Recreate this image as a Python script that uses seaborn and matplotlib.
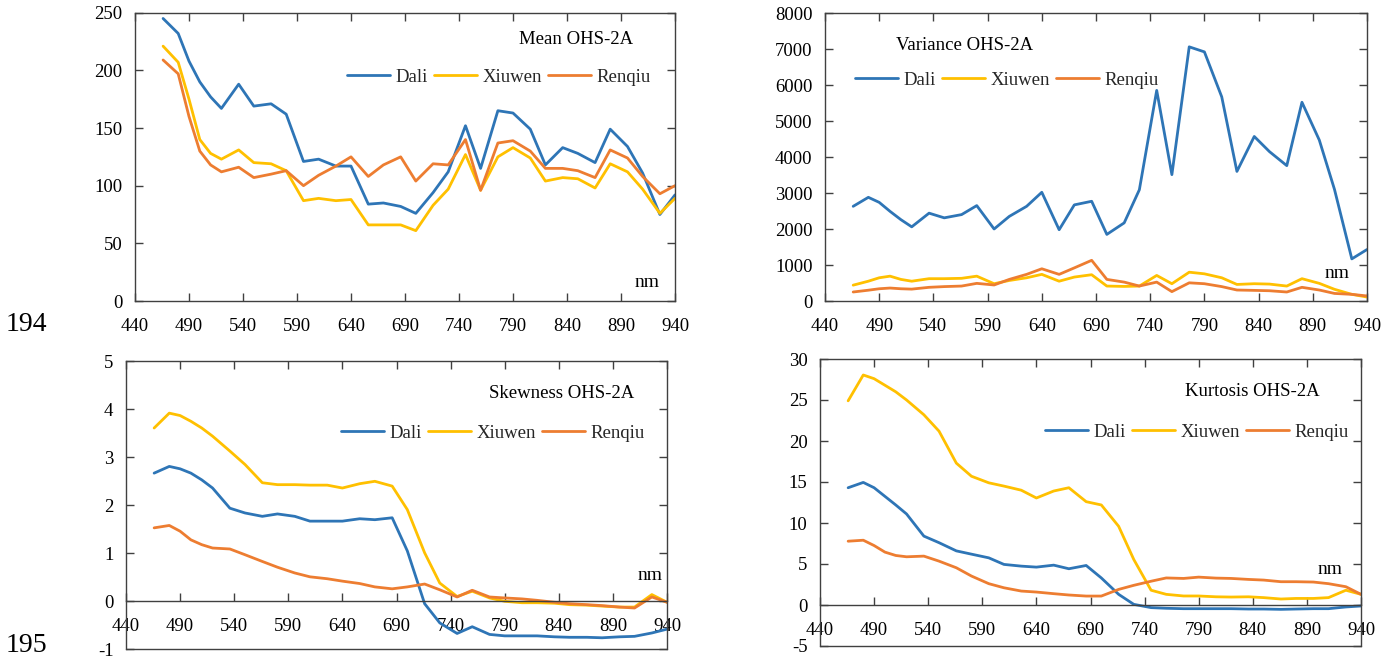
import matplotlib
matplotlib.use("Agg")
import matplotlib.pyplot as plt
import pandas as pd
import seaborn as sns

# OHS-2A band centre wavelengths (nm)
wavelength = [466, 480, 490, 500, 510, 520, 536, 550, 566, 580, 596, 610,
              626, 640, 656, 670, 686, 700, 716, 730, 746, 760, 776, 790,
              806, 820, 836, 850, 866, 880, 896, 910, 926, 940]

sites = ["Dali", "Xiuwen", "Renqiu"]
site_colors = {"Dali": "#2E75B6", "Xiuwen": "#FFC000", "Renqiu": "#ED7D31"}

mean_dali = [245, 232, 208, 190, 177, 167, 188, 169, 171, 162, 121, 123,
             117, 117, 84, 85, 82, 76, 94, 112, 152, 115, 165, 163,
             149, 118, 133, 128, 120, 149, 134, 111, 75, 92]
mean_xiuwen = [221, 207, 175, 140, 128, 123, 131, 120, 119, 113, 87, 89,
               87, 88, 66, 66, 66, 61, 83, 97, 127, 96, 125, 133,
               124, 104, 107, 106, 98, 119, 112, 97, 76, 89]
mean_renqiu = [209, 197, 160, 130, 118, 112, 116, 107, 110, 113, 100, 109,
               117, 125, 108, 118, 125, 104, 119, 118, 140, 96, 137, 139,
               130, 115, 115, 113, 107, 131, 124, 108, 93, 100]

var_dali = [2630, 2880, 2740, 2490, 2260, 2060, 2440, 2310, 2400, 2650, 2000, 2350,
            2630, 3020, 1980, 2670, 2770, 1850, 2170, 3090, 5850, 3510, 7060, 6920,
            5670, 3600, 4570, 4150, 3760, 5520, 4470, 3100, 1170, 1430]
var_xiuwen = [440, 550, 645, 690, 600, 550, 620, 620, 630, 690, 480, 570,
              645, 740, 550, 665, 730, 415, 405, 415, 710, 480, 800, 755,
              645, 460, 480, 470, 415, 620, 490, 325, 185, 110]
var_renqiu = [250, 300, 340, 360, 340, 330, 380, 400, 415, 490, 445, 600,
              740, 895, 740, 920, 1130, 600, 525, 415, 525, 260, 505, 480,
              400, 305, 295, 285, 250, 380, 305, 210, 185, 140]

skew_dali = [2.67, 2.81, 2.76, 2.67, 2.53, 2.36, 1.94, 1.84, 1.77, 1.82, 1.77, 1.67,
             1.67, 1.67, 1.72, 1.70, 1.74, 1.05, -0.05, -0.45, -0.67, -0.53, -0.69, -0.72,
             -0.72, -0.72, -0.74, -0.75, -0.75, -0.76, -0.74, -0.73, -0.66, -0.58]
skew_xiuwen = [3.61, 3.92, 3.87, 3.75, 3.61, 3.44, 3.13, 2.85, 2.47, 2.43, 2.43, 2.42,
               2.42, 2.36, 2.45, 2.50, 2.40, 1.91, 1.01, 0.38, 0.10, 0.21, 0.07, 0.00,
               -0.03, -0.03, -0.04, -0.07, -0.08, -0.10, -0.12, -0.12, 0.14, -0.02]
skew_renqiu = [1.53, 1.58, 1.46, 1.28, 1.18, 1.11, 1.09, 0.97, 0.83, 0.71, 0.59, 0.51,
               0.47, 0.42, 0.37, 0.30, 0.26, 0.30, 0.36, 0.24, 0.09, 0.23, 0.09, 0.07,
               0.05, 0.02, -0.02, -0.05, -0.07, -0.09, -0.12, -0.14, 0.09, -0.02]

kurt_dali = [14.3, 14.95, 14.3, 13.25, 12.2, 11.1, 8.4, 7.6, 6.6, 6.2, 5.75, 4.95,
             4.74, 4.62, 4.86, 4.42, 4.82, 3.3, 1.3, 0.08, -0.32, -0.4, -0.45, -0.45,
             -0.45, -0.45, -0.49, -0.49, -0.53, -0.49, -0.45, -0.45, -0.24, -0.12]
kurt_xiuwen = [24.9, 28.05, 27.6, 26.8, 26.0, 25.0, 23.2, 21.2, 17.3, 15.7, 14.9, 14.5,
               14.0, 13.05, 13.9, 14.3, 12.6, 12.2, 9.6, 5.55, 1.8, 1.3, 1.1, 1.1,
               1.0, 0.97, 1.0, 0.9, 0.73, 0.8, 0.8, 0.9, 1.8, 1.3]
kurt_renqiu = [7.78, 7.9, 7.25, 6.45, 6.04, 5.88, 5.96, 5.35, 4.54, 3.53, 2.6, 2.1,
               1.7, 1.58, 1.38, 1.22, 1.09, 1.09, 1.9, 2.4, 2.9, 3.3, 3.24, 3.4,
               3.28, 3.24, 3.12, 3.04, 2.84, 2.84, 2.8, 2.6, 2.23, 1.3]

x_ticks = list(range(440, 941, 50))

sns.set_theme(style="white")
plt.rcParams["font.family"] = ["Liberation Serif", "DejaVu Serif"]
plt.rcParams["axes.linewidth"] = 1.0
plt.rcParams["axes.unicode_minus"] = False

W, H = 1392, 656
fig = plt.figure(figsize=(W / 100, H / 100), dpi=100)
fig.patch.set_facecolor("white")

FS = 13.5
SPINE = "#404040"


def px_rect(left, top, right, bottom):
    return [left / W, 1 - bottom / H, (right - left) / W, (bottom - top) / H]


def fpos(x, y):
    return (x / W, 1 - y / H)


def long_frame(values):
    rows = []
    for site, vals in zip(sites, values):
        for wl, v in zip(wavelength, vals):
            rows.append({"wavelength": wl, "value": v, "site": site})
    return pd.DataFrame(rows)


panels = [
    dict(rect=(135, 12.7, 675, 301), vals=(mean_dali, mean_xiuwen, mean_renqiu),
         ylim=(0, 250), ystep=50, title="Mean OHS-2A", title_xy=(576, 40),
         legend_xy=(499, 77), nm_xy=(647, 282)),
    dict(rect=(825, 13, 1367, 301), vals=(var_dali, var_xiuwen, var_renqiu),
         ylim=(0, 8000), ystep=1000, title="Variance OHS-2A", title_xy=(965, 45),
         legend_xy=(1007, 80), nm_xy=(1337, 273)),
    dict(rect=(126, 361.3, 667, 649.3), vals=(skew_dali, skew_xiuwen, skew_renqiu),
         ylim=(-1, 5), ystep=1, title="Skewness OHS-2A", title_xy=(562, 393),
         legend_xy=(493, 433), nm_xy=(650, 575)),
    dict(rect=(820, 359, 1361, 646), vals=(kurt_dali, kurt_xiuwen, kurt_renqiu),
         ylim=(-5, 30), ystep=5, title="Kurtosis OHS-2A", title_xy=(1252, 392),
         legend_xy=(1197, 432), nm_xy=(1330, 570)),
]

for p in panels:
    ax = fig.add_axes(px_rect(*p["rect"]))
    df = long_frame(p["vals"])
    sns.lineplot(data=df, x="wavelength", y="value", hue="site", hue_order=sites,
                 palette=site_colors, linewidth=2.0, errorbar=None, ax=ax,
                 legend=True, solid_joinstyle="round", solid_capstyle="round")
    ax.set_xlim(440, 940)
    ax.set_ylim(*p["ylim"])
    ax.set_xticks(x_ticks)
    lo, hi = p["ylim"]
    ax.set_yticks(list(range(lo, hi + 1, p["ystep"])))
    ax.set_xlabel("")
    ax.set_ylabel("")
    ax.grid(False)
    ax.set_facecolor("white")
    for s in ax.spines.values():
        s.set_color(SPINE)
        s.set_linewidth(1.0)
        s.set_visible(True)
    ax.tick_params(axis="both", which="major", direction="in", length=6, width=1.0,
                   color=SPINE, labelsize=FS, labelcolor="black",
                   top=True, right=True, bottom=True, left=True)
    ax.tick_params(axis="x", pad=12)
    ax.tick_params(axis="y", pad=9)

    if lo < 0:
        # horizontal axis crosses at zero; keep a frame line at the bottom
        ax.spines["bottom"].set_position(("data", 0))
        ax.axhline(lo, color=SPINE, linewidth=1.0, clip_on=False, zorder=3)

    leg = ax.legend(loc="center", bbox_to_anchor=fpos(*p["legend_xy"]),
                    bbox_transform=fig.transFigure, ncol=3, frameon=False,
                    fontsize=FS, handlelength=2.3, handletextpad=0.3,
                    columnspacing=0.3, borderpad=0, borderaxespad=0)
    for line in leg.get_lines():
        line.set_linewidth(2.0)

    fig.text(*fpos(*p["title_xy"]), p["title"], ha="center", va="center",
             fontsize=FS, color="black")
    fig.text(*fpos(*p["nm_xy"]), "nm", ha="center", va="center",
             fontsize=FS + 0.5, color="black")

fig.text(*fpos(26, 325), "194", ha="center", va="center", fontsize=20, color="black")
fig.text(*fpos(26, 646), "195", ha="center", va="center", fontsize=20, color="black")

fig.savefig("out.png", dpi=100, facecolor="white")
